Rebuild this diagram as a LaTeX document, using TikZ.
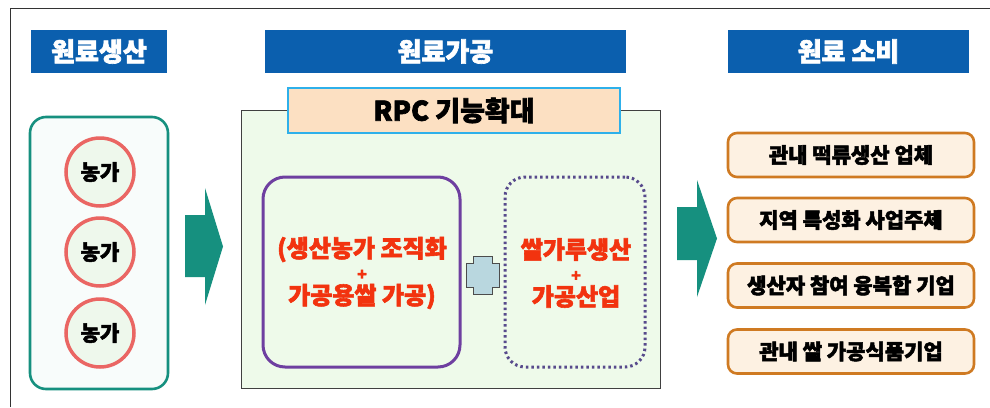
\documentclass[tikz,border=0pt]{standalone}
\usepackage{fontspec}
\newfontfamily\kr{Noto Sans CJK KR}[BoldFeatures={FakeBold=2.4}]
\usetikzlibrary{positioning}
\definecolor{hdrblue}{HTML}{0B5FAE}
\definecolor{teal1}{HTML}{16907F}
\definecolor{circred}{HTML}{EA6663}
\definecolor{circfill}{HTML}{EEF8EC}
\definecolor{midfill}{HTML}{EEFAEA}
\definecolor{rpcfill}{HTML}{FCE0C2}
\definecolor{rpcline}{HTML}{2EB0EA}
\definecolor{purp}{HTML}{6E3FA0}
\definecolor{dotpurp}{HTML}{574A8C}
\definecolor{redtxt}{HTML}{F2330F}
\definecolor{plusfill}{HTML}{B9D7DF}
\definecolor{orgline}{HTML}{CF7A22}
\definecolor{orgfill}{HTML}{FDF1E2}
\tikzset{
  hdr/.style={fill=hdrblue, text=white, font=\kr\bfseries\fontsize{26}{28}\selectfont, inner sep=0pt},
  farm/.style={circle, draw=circred, line width=3.5pt, fill=circfill, minimum size=68pt, inner sep=0pt, font=\kr\bfseries\fontsize{21}{24}\selectfont},
  conbox/.style={rounded corners=9pt, draw=orgline, line width=2.6pt, fill=orgfill, font=\kr\bfseries\fontsize{21}{24}\selectfont, inner sep=0pt},
  bigarrow/.style={fill=teal1, draw=none},
  redtext/.style={text=redtxt, font=\kr\bfseries\fontsize{24}{26}\selectfont, align=center}
}
\begin{document}
\begin{tikzpicture}[x=1pt,y=-1pt]
\useasboundingbox (0,0) rectangle (990,407);
\fill[white] (0,0) rectangle (990,407);
\draw[line width=1pt, black!80] (10,407) -- (10,8) -- (990,8);
% headers
\node[hdr, minimum width=136pt, minimum height=43pt] (h1) at (99,51.5) {원료생산};
\node[hdr, minimum width=361pt, minimum height=43pt] (h2) at (445.5,51.5) {원료가공};
\node[hdr, minimum width=241pt, minimum height=43pt] (h3) at (848.5,51.5) {원료 소비};
% left teal box
\node[draw=teal1, line width=2.6pt, rounded corners=16pt, fill=white!97!teal1, minimum width=138pt, minimum height=272pt, inner sep=0pt] (prod) at (99,253) {};
\node[farm] (f1) at (100,172) {농가};
\node[farm] (f2) at (100,252) {농가};
\node[farm] (f3) at (100,333) {농가};
% arrow 1
\fill[bigarrow] (185,215) -- (205,215) -- (205,188) -- (223,246.5) -- (205,305) -- (205,277) -- (185,277) -- cycle;
% middle green box
\node[draw=black!75, line width=0.8pt, fill=midfill, minimum width=419pt, minimum height=278pt, inner sep=0pt] (proc) at (451,249) {};
\node[draw=rpcline, line width=2.6pt, fill=rpcfill, minimum width=332pt, minimum height=45pt, inner sep=0pt, font=\kr\bfseries\fontsize{27}{28}\selectfont] (rpc) at (454,110.5) {RPC 기능확대};
% purple box
\node[draw=purp, line width=3pt, rounded corners=22pt, minimum width=197pt, minimum height=190pt, inner sep=0pt] (pbox) at (361.5,272) {};
\node[redtext] (ptxt) at (362,273) {(생산농가 조직화\\[-3pt]{\fontsize{16}{16}\selectfont +}\\[-2pt]가공용쌀 가공)};
% dotted box
\node[draw=dotpurp, line width=3pt, dash pattern=on 2.5pt off 3pt, rounded corners=20pt, minimum width=140pt, minimum height=190pt, inner sep=0pt] (dbox) at (575,272) {};
\node[redtext] (dtxt) at (576,273) {쌀가루생산\\[-3pt]{\fontsize{16}{16}\selectfont +}\\[-2pt]가공산업};
% plus shape
\draw[fill=plusfill, draw=black!70, line width=0.8pt] (473,256) -- (492,256) -- (492,263) -- (499,263) -- (499,287) -- (492,287) -- (492,294) -- (473,294) -- (473,287) -- (466,287) -- (466,263) -- (473,263) -- cycle;
% arrow 2
\fill[bigarrow] (677,207) -- (697,207) -- (697,180) -- (717,238.5) -- (697,297) -- (697,260) -- (677,260) -- cycle;
% right boxes
\node[conbox, minimum width=246pt, minimum height=44pt] (c1) at (851,155) {관내 떡류생산 업체};
\node[conbox, minimum width=246pt, minimum height=44pt] (c2) at (851,220) {지역 특성화 사업주체};
\node[conbox, minimum width=246pt, minimum height=44pt] (c3) at (851,285.5) {생산자 참여 융복합 기업};
\node[conbox, minimum width=246pt, minimum height=44pt] (c4) at (851,351.5) {관내 쌀 가공식품기업};
\end{tikzpicture}
\end{document}
